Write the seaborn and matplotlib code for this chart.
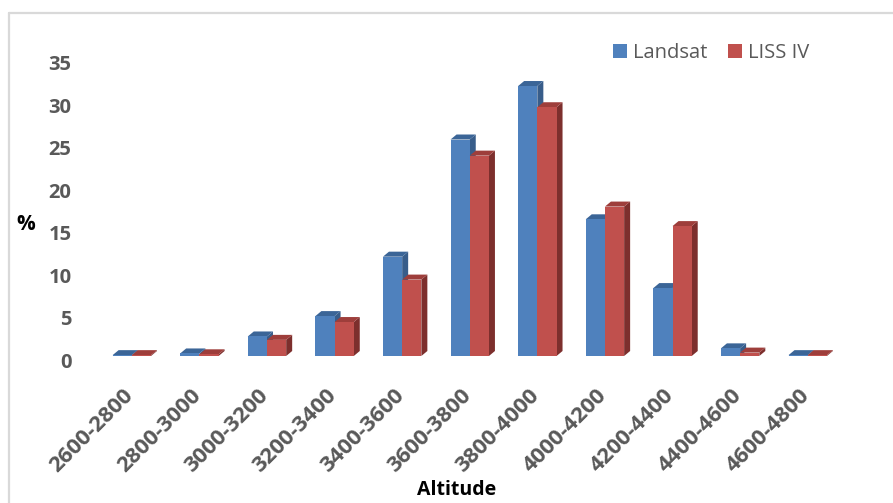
import numpy as np
import pandas as pd
import matplotlib
matplotlib.use("Agg")
import matplotlib.pyplot as plt
import matplotlib.transforms as mtransforms
from matplotlib.patches import Polygon, Patch
from matplotlib.lines import Line2D
import seaborn as sns

# ---- data -------------------------------------------------------------
altitude = ["2600-2800", "2800-3000", "3000-3200", "3200-3400", "3400-3600",
            "3600-3800", "3800-4000", "4000-4200", "4200-4400", "4400-4600",
            "4600-4800"]
landsat = [0.1, 0.3, 2.3, 4.7, 11.7, 25.5, 31.8, 16.1, 8.0, 0.9, 0.1]
liss_iv = [0.1, 0.2, 1.9, 4.0, 9.0, 23.6, 29.3, 17.6, 15.3, 0.4, 0.1]
series = ["Landsat", "LISS IV"]
y_ticks = [0, 5, 10, 15, 20, 25, 30, 35]

# front / top / side shades for the pseudo-3D columns
front_colors = ["#4F81BD", "#C0504D"]
top_colors = ["#3B6597", "#9E3E3B"]
side_colors = ["#385D8A", "#7D2F2D"]

df = pd.DataFrame({
    "Altitude": altitude * 2,
    "Percent": landsat + liss_iv,
    "Sensor": [series[0]] * len(altitude) + [series[1]] * len(altitude),
})

sns.set_theme(style="white")
plt.rcParams["font.family"] = ["Open Sans", "DejaVu Sans"]

W, H = 893, 503
fig = plt.figure(figsize=(W / 100, H / 100), dpi=100)
fig.patch.set_facecolor("white")

# axes box in pixels: x from 98 to 841, baseline at y=356
px_per_unit = 8.49
ymax = 37
left, right = 98, 841.5
base = 356
ax = fig.add_axes([left / W, (H - base) / H, (right - left) / W,
                   ymax * px_per_unit / H])

sns.barplot(data=df, x="Altitude", y="Percent", hue="Sensor",
            palette=front_colors, saturation=1, width=0.568, gap=0,
            legend=False, ax=ax, edgecolor="none", linewidth=0)

ax.set_xlim(-0.5, len(altitude) - 0.5)
ax.set_ylim(0, ymax)

# depth of the columns, in pixels converted to data units
depth_px_x, depth_px_y = 6.0, 5.0
x_unit_px = (right - left) / len(altitude)
ddx = depth_px_x / x_unit_px
ddy = depth_px_y / px_per_unit

for i, cont in enumerate(ax.containers):
    z = 2 + i
    for bar in cont:
        bar.set_zorder(z + 0.2)
        x0 = bar.get_x()
        w = bar.get_width()
        v = bar.get_height()
        x1 = x0 + w
        top = Polygon([(x0, v), (x1, v), (x1 + ddx, v + ddy), (x0 + ddx, v + ddy)],
                      closed=True, facecolor=top_colors[i], edgecolor="none",
                      zorder=z, clip_on=False)
        side = Polygon([(x1, 0), (x1, v), (x1 + ddx, v + ddy), (x1 + ddx, ddy)],
                       closed=True, facecolor=side_colors[i], edgecolor="none",
                       zorder=z, clip_on=False)
        ax.add_patch(side)
        ax.add_patch(top)

for s in ax.spines.values():
    s.set_visible(False)
ax.tick_params(axis="both", length=0)

ax.set_yticks(y_ticks)
ax.set_yticklabels([str(t) for t in y_ticks], fontsize=14.5,
                   fontweight="bold", color="#595959")
ax.tick_params(axis="y", pad=19)
shift = mtransforms.ScaledTranslation(0, -4 / 100, fig.dpi_scale_trans)
for lab in ax.get_yticklabels():
    lab.set_transform(lab.get_transform() + shift)

ax.set_xticks(range(len(altitude)))
ax.set_xticklabels(altitude, rotation=45, ha="right", rotation_mode="anchor",
                   fontsize=16, fontweight="bold", color="#595959")
ax.tick_params(axis="x", pad=21)
xshift = mtransforms.ScaledTranslation(-9 / 100, 0, fig.dpi_scale_trans)
for lab in ax.get_xticklabels():
    lab.set_transform(lab.get_transform() + xshift)

ax.set_xlabel("")
ax.set_ylabel("")
fig.text(26 / W, 1 - 225 / H, "%", ha="center", va="center",
         fontsize=15, fontweight="bold", color="black")
fig.text(457 / W, 1 - 490 / H, "Altitude", ha="center", va="center",
         fontsize=14, fontweight="bold", color="black")

handles = [Patch(facecolor=c, edgecolor="none") for c in front_colors]
fig.legend(handles, series, loc="center", bbox_to_anchor=(711 / W, 1 - 53 / H),
           ncol=2, frameon=False, fontsize=14.5, labelcolor="#595959",
           handlelength=0.7, handleheight=0.7, handletextpad=0.3,
           columnspacing=1.0)

# chart-area border (left and top edges)
border = "#D9D9D9"
fig.add_artist(Line2D([9 / W, 9 / W], [0, 1 - 13 / H], color=border, lw=1.6))
fig.add_artist(Line2D([9 / W, 1], [1 - 13 / H, 1 - 13 / H], color=border, lw=1.6))

fig.savefig("out.png", dpi=100)
